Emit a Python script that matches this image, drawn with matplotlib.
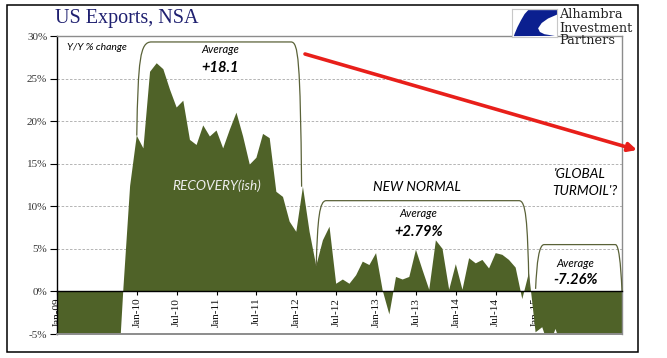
import matplotlib
matplotlib.use("Agg")
import matplotlib.pyplot as plt
from matplotlib.path import Path
from matplotlib.patches import PathPatch, Rectangle, Polygon, FancyArrowPatch

# ---------------- data ----------------
months = ["Jan", "Feb", "Mar", "Apr", "May", "Jun", "Jul", "Aug", "Sep", "Oct", "Nov", "Dec"]
yoy_2009 = [-22.0, -24.0, -22.5, -26.0, -27.0, -25.5, -23.0, -21.5, -17.5, -13.0, 0.5, 12.4]
yoy_2010 = [18.3, 16.8, 25.8, 26.8, 26.1, 23.7, 21.6, 22.4, 17.8, 17.2, 19.5, 18.2]
yoy_2011 = [18.9, 16.8, 19.0, 21.0, 18.2, 14.9, 15.7, 18.5, 18.0, 11.7, 11.1, 8.2]
yoy_2012 = [7.0, 12.3, 7.0, 3.0, 6.0, 7.6, 0.9, 1.4, 0.9, 1.9, 3.5, 3.1]
yoy_2013 = [4.5, 0.1, -2.7, 1.7, 1.4, 1.7, 4.9, 2.5, 0.2, 6.0, 5.0, 0.2]
yoy_2014 = [3.2, 0.2, 3.9, 3.3, 3.7, 2.7, 4.5, 4.3, 3.7, 2.8, -0.9, 2.2]
yoy_2015 = [-4.8, -4.2, -6.5, -4.4, -6.8, -7.0, -8.5, -8.0, -9.0, -10.0, -9.0, -8.5]
yoy_2016 = [-10.5, -7.5]
years = [2009, 2010, 2011, 2012, 2013, 2014, 2015, 2016]

values = yoy_2009 + yoy_2010 + yoy_2011 + yoy_2012 + yoy_2013 + yoy_2014 + yoy_2015 + yoy_2016
x = list(range(len(values)))

tick_pos = list(range(0, 85, 6))
tick_labels = [f"{months[p % 12]}-{str(2009 + p // 12)[2:]}" for p in tick_pos]

y_ticks = [-5, 0, 5, 10, 15, 20, 25, 30]
y_tick_labels = [f"{v}%" for v in y_ticks]

avg_labels = ["+18.1", "+2.79%", "-7.26%"]

# ---------------- figure ----------------
W, H = 667, 358
fig = plt.figure(figsize=(W / 100, H / 100), dpi=100)
fig.patch.set_facecolor("white")

def fx(px):
    return px / W

def fy(py):
    return 1 - py / H

ax = fig.add_axes([fx(57), fy(334), fx(622) - fx(57), fy(36) - fy(334)])
ax.set_xlim(0, len(values) - 1)
ax.set_ylim(-5, 30)

green = "#4F6228"
ax.fill_between(x, values, 0, color=green, linewidth=0, zorder=2)

# gridlines
for g in [5, 10, 15, 20, 25]:
    ax.axhline(g, color="#A8A8A8", lw=0.6, ls=(0, (3, 2)), zorder=1)

# spines
ax.spines["bottom"].set_position(("data", 0))
ax.spines["bottom"].set_color("black")
ax.spines["bottom"].set_linewidth(1.0)
ax.spines["bottom"].set_zorder(4)
ax.spines["left"].set_color("black")
ax.spines["left"].set_linewidth(1.0)
for s in ["top", "right"]:
    ax.spines[s].set_color("#8C8C8C")
    ax.spines[s].set_linewidth(1.0)
ax.axhline(-5, color="#8C8C8C", lw=1.4, zorder=3, clip_on=False)

ax.set_xticks(tick_pos)
ax.set_xticklabels(tick_labels, rotation=90, fontfamily="Liberation Serif", fontsize=8, color="#111111")
ax.tick_params(axis="x", direction="out", length=3, width=0.8, pad=1.5)
ax.set_yticks(y_ticks)
ax.set_yticklabels(y_tick_labels, fontfamily="Liberation Serif", fontsize=8, color="#333333")
ax.tick_params(axis="y", direction="out", length=5, width=0.8, pad=2)
for lbl in ax.get_xticklabels():
    lbl.set_zorder(5)

# brackets
bcol = "#5A6238"
def bracket(x0, y0, xc0, top, xc1, x1, y1):
    verts = [(x0, y0), (x0 + 0.2, top - 2.0), (x0 + 0.5, top), (xc0, top),
             (xc1, top), (x1 - 0.5, top), (x1 - 0.2, top - 2.0), (x1, y1)]
    codes = [Path.MOVETO, Path.CURVE4, Path.CURVE4, Path.CURVE4,
             Path.LINETO, Path.CURVE4, Path.CURVE4, Path.CURVE4]
    ax.add_patch(PathPatch(Path(verts, codes), fill=False, ec=bcol, lw=0.9, zorder=3, clip_on=False))

bracket(12.0, 18.3, 14.2, 29.3, 35.2, 36.8, 12.3)
bracket(39.0, 3.0, 40.5, 10.66, 69.5, 71.0, 0.5)
bracket(72.0, 0.3, 73.3, 5.5, 84.0, 85.0, 0.0)

# annotations
ifont = "Lato"
ax.text(1.5, 28.7, "Y/Y % change", fontfamily=ifont, style="italic", fontsize=7.5, va="center", ha="left", zorder=6)
ax.text(24.5, 28.45, "Average", fontfamily=ifont, style="italic", fontsize=8, ha="center", va="center", zorder=6)
ax.text(24.5, 26.3, avg_labels[0], fontfamily=ifont, style="italic", weight="bold", fontsize=10.5, ha="center", va="center", zorder=6)
ax.text(24.0, 12.4, "RECOVERY(ish)", fontfamily=ifont, style="italic", fontsize=9.8, color="#EEEEEE", ha="center", va="center", zorder=6)
ax.text(54.1, 12.3, "NEW NORMAL", fontfamily=ifont, style="italic", fontsize=9.8, ha="center", va="center", zorder=6)
ax.text(54.4, 9.1, "Average", fontfamily=ifont, style="italic", fontsize=8, ha="center", va="center", zorder=6)
ax.text(54.4, 7.0, avg_labels[1], fontfamily=ifont, style="italic", weight="bold", fontsize=10.5, ha="center", va="center", zorder=6)
ax.text(78.7, 13.8, "'GLOBAL", fontfamily=ifont, style="italic", fontsize=9.8, ha="center", va="center", zorder=6)
ax.text(79.4, 11.8, "TURMOIL'?", fontfamily=ifont, style="italic", fontsize=9.8, ha="center", va="center", zorder=6)
ax.text(78.0, 3.3, "Average", fontfamily=ifont, style="italic", fontsize=8, ha="center", va="center", zorder=6)
ax.text(78.0, 1.3, avg_labels[2], fontfamily=ifont, style="italic", weight="bold", fontsize=10.5, ha="center", va="center", zorder=6)

# red arrow (figure pixel space)
arrow = FancyArrowPatch((fx(305), fy(54)), (fx(637), fy(150)), transform=fig.transFigure,
                        arrowstyle="-|>,head_length=5,head_width=2.5", color="#E81F1A", lw=2.6,
                        shrinkA=0, shrinkB=0, zorder=10)
fig.patches.append(arrow)

# title
fig.text(fx(55), fy(19), "US Exports, NSA", fontfamily="Liberation Serif", fontsize=14.5,
         color="#1F2070", ha="left", va="center")

# logo
lax = fig.add_axes([fx(512), fy(37), fx(557) - fx(512), fy(9) - fy(37)])
lax.set_xlim(0, 1)
lax.set_ylim(0, 1)
lax.set_xticks([])
lax.set_yticks([])
for s in lax.spines.values():
    s.set_color("#C8C8C8")
    s.set_linewidth(0.8)
swoosh = [(0.36, 0.96), (1.0, 0.96), (1.0, 0.80), (0.80, 0.66), (0.66, 0.50), (0.58, 0.31),
          (0.62, 0.18), (0.72, 0.10), (0.95, 0.04), (0.04, 0.03), (0.06, 0.12),
          (0.12, 0.35), (0.20, 0.60), (0.28, 0.82)]
lax.add_patch(Polygon(swoosh, closed=True, fc="#0B1F8F", ec="none"))

for i, word in enumerate(["Alhambra", "Investment", "Partners"]):
    fig.text(fx(559), fy(15 + 13 * i), word, fontfamily="DejaVu Serif", fontsize=9.3,
             color="#222222", ha="left", va="center")

# outer frame
fig.patches.append(Rectangle((fx(7), fy(352)), fx(638) - fx(7), fy(5) - fy(352),
                             transform=fig.transFigure, fill=False, ec="black", lw=1.1))

fig.savefig("out.png", dpi=100)
